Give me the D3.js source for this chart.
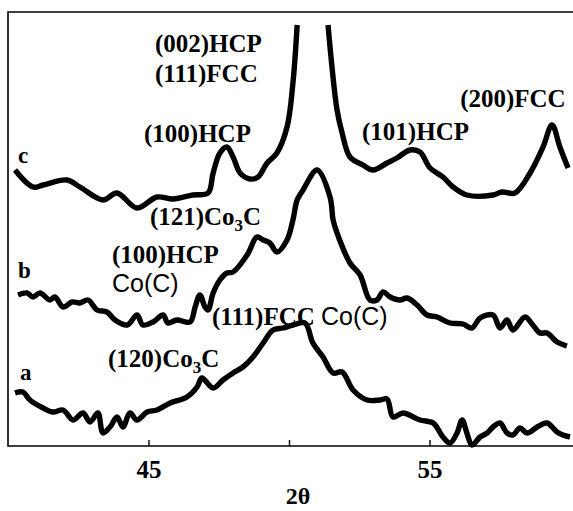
<!DOCTYPE html>
<html>
<head>
<meta charset="utf-8">
<script src="https://cdn.jsdelivr.net/npm/d3@7"></script>
<style>
  body { margin: 0; background: #fff; }
  text { font-family: "Liberation Serif", "Times New Roman", serif; font-weight: bold; fill: #000; }
  .sans { font-family: "Liberation Sans", Arial, sans-serif; }
</style>
</head>
<body>
<div id="chart"></div>
<script>
// pattern c (top), the main peak runs off the top of the frame (null = break)
var cTheta = [40.25, 40.89, 41.25, 42.10, 42.56, 43.38, 43.88, 44.59, 45.30, 45.87, 46.58, 47.12, 47.30, 47.54, 47.79, 48.01, 48.26, 48.61, 48.90, 49.22, 49.57, 49.93, 50.14, 50.29,
              50.85,
              51.39, 51.53, 51.71, 51.89, 52.17, 52.63, 52.99, 53.49, 53.84, 54.31, 54.66, 55.02, 55.48, 55.84, 56.33, 57.26, 57.58, 58.04, 58.58, 59.04, 59.36, 59.64, 59.93];
var cCounts = [276, 259, 261, 266, 259, 246, 253, 238, 249, 247, 251, 253, 273, 293, 299, 289, 273, 267, 269, 283, 293, 319, 363, 421,
               null,
               421, 379, 336, 313, 289, 281, 276, 283, 288, 296, 294, 278, 269, 259, 251, 251, 254, 253, 273, 299, 321, 299, 278];

// pattern b (middle)
var bTheta = [40.36, 40.68, 40.89, 41.14, 41.49, 41.67, 41.96, 42.28, 42.56, 42.85, 43.17, 43.52, 43.81, 44.24, 44.59, 44.80, 45.16, 45.52, 45.69, 46.01, 46.48, 46.66, 46.83, 47.01, 47.12, 47.30, 47.54, 47.79, 48.01, 48.51, 48.86, 49.08, 49.32, 49.57, 49.93, 50.14, 50.29, 50.50, 51.00, 51.46, 51.57, 51.71, 52.17, 52.53, 52.88, 53.13, 53.35, 53.60, 53.95, 54.20, 54.56, 54.91, 55.27, 55.73, 56.19, 56.51, 56.80, 57.26, 57.51, 57.76, 57.97, 58.40, 58.68, 58.93, 59.18, 59.54, 59.89];
var bCounts = [151, 153, 149, 153, 146, 149, 139, 144, 143, 146, 136, 134, 126, 121, 131, 121, 124, 131, 123, 126, 124, 139, 151, 139, 136, 153, 166, 173, 174, 191, 209, 206, 203, 194, 206, 226, 246, 256, 276, 249, 226, 213, 183, 171, 146, 146, 154, 149, 146, 148, 141, 131, 129, 123, 122, 118, 128, 131, 118, 126, 116, 129, 121, 113, 113, 104, 100];

// pattern a (bottom)
var aTheta = [40.25, 40.53, 40.78, 41.25, 41.60, 41.96, 42.31, 42.67, 42.92, 43.20, 43.38, 43.63, 43.88, 44.09, 44.34, 44.59, 44.95, 45.30, 45.77, 46.37, 46.73, 46.90, 47.30, 47.65, 48.01, 48.36, 48.72, 49.08, 49.43, 49.79, 50.14, 50.57, 50.85, 51.21, 51.57, 51.89, 52.28, 52.78, 53.24, 53.49, 53.70, 54.06, 54.66, 55.13, 55.48, 55.73, 55.98, 56.16, 56.33, 56.51, 56.80, 57.05, 57.26, 57.51, 57.76, 57.97, 58.22, 58.47, 58.83, 59.18, 59.54, 59.75, 60.00];
var aCounts = [53, 54, 46, 38, 34, 36, 26, 33, 24, 33, 13, 19, 29, 19, 33, 26, 34, 36, 43, 49, 59, 68, 58, 66, 73, 79, 89, 103, 116, 118, 121, 123, 103, 89, 73, 74, 56, 46, 46, 47, 29, 33, 26, 23, 9, 3, 13, 26, 13, 1, 9, 13, 19, 23, 13, 11, 18, 13, 19, 23, 14, 11, 9];

var tickValues = [45, 50, 55];
var tickLabels = ["45", "", "55"];
var axisTitle = "2\u03B8";

var width = 573, height = 511;

var svg = d3.select("#chart").append("svg")
    .attr("width", width)
    .attr("height", height);

// scales
var x = d3.scaleLinear().domain([40, 60]).range([8, 570]);
var y = d3.scaleLinear().domain([0, 434]).range([446, 12]);

// frame: left, top and bottom lines only
svg.append("path")
    .attr("d", "M573,12H8V446H573")
    .attr("fill", "none")
    .attr("stroke", "#000")
    .attr("stroke-width", 1.6);

// bottom axis, ticks pointing inward
var xAxis = d3.axisBottom(x)
    .tickValues(tickValues)
    .tickFormat(function(d, i){ return tickLabels[i]; })
    .tickSizeInner(-6)
    .tickSizeOuter(0)
    .tickPadding(14);

var gx = svg.append("g")
    .attr("transform", "translate(0,446)")
    .call(xAxis);
gx.select(".domain").remove();
gx.selectAll(".tick line").attr("stroke", "#000").attr("stroke-width", 1.4);
gx.selectAll(".tick text")
    .style("font-family", "'Liberation Serif', serif")
    .style("font-size", "25px")
    .style("font-weight", "bold");

svg.append("text")
    .attr("x", 298)
    .attr("y", 504)
    .attr("text-anchor", "middle")
    .style("font-size", "24px")
    .text(axisTitle);

// patterns
var line = d3.line()
    .defined(function(d){ return d[1] != null; })
    .curve(d3.curveCatmullRom.alpha(0.5))
    .x(function(d){ return x(d[0]); })
    .y(function(d){ return y(d[1]); });

function drawPattern(theta, counts){
    var pts = theta.map(function(t, i){ return [t, counts[i]]; });
    svg.append("path")
        .datum(pts)
        .attr("d", line)
        .attr("fill", "none")
        .attr("stroke", "#000")
        .attr("stroke-width", 5.4)
        .attr("stroke-linejoin", "round")
        .attr("stroke-linecap", "butt");
}
drawPattern(aTheta, aCounts);
drawPattern(bTheta, bCounts);
drawPattern(cTheta, cCounts);

// labels
function label(t, c, size){
    return svg.append("text")
        .attr("x", x(t))
        .attr("y", y(c))
        .style("font-size", (size || 25) + "px");
}
function carbide(t, c, hkl){
    var tx = label(t, c);
    tx.append("tspan").text(hkl + "Co");
    tx.append("tspan").attr("dy", 6).style("font-size", "17px").text("3");
    tx.append("tspan").attr("dy", -6).text("C");
}

label(45.23, 394).text("(002)HCP");
label(45.23, 364).text("(111)FCC");
label(44.84, 304).text("(100)HCP");
label(52.60, 306).text("(101)HCP");
label(56.09, 339).text("(200)FCC");
label(40.36, 283, 23).text("c");

carbide(45.05, 221, "(121)");
label(43.70, 183).text("(100)HCP");
label(43.70, 154).attr("class", "sans").style("font-weight", "normal").text("Co(C)");
label(40.36, 168, 23).text("b");
var fc = label(47.26, 121);
fc.append("tspan").text("(111)FCC ");
fc.append("tspan").attr("class", "sans").style("font-weight", "normal").text("Co(C)");

carbide(43.56, 79, "(120)");
label(40.43, 66, 23).text("a");
</script>
</body>
</html>
